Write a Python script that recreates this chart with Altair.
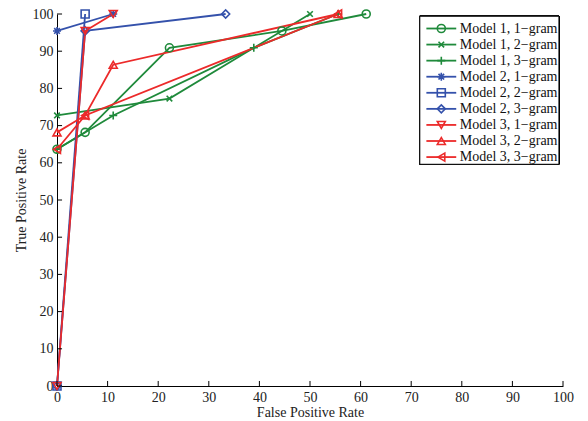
import altair as alt
import pandas as pd

# ---------------- data ----------------
series = [
    "Model 1, 1−gram", "Model 1, 2−gram", "Model 1, 3−gram",
    "Model 2, 1−gram", "Model 2, 2−gram", "Model 2, 3−gram",
    "Model 3, 1−gram", "Model 3, 2−gram", "Model 3, 3−gram",
]
fpr = [
    [0, 5.56, 22.22, 44.44, 61.11],
    [0, 22.22, 50.0],
    [0, 11.11, 38.89, 55.56],
    [0, 11.11],
    [0, 5.56],
    [0, 5.56, 33.33],
    [0, 5.56, 11.11],
    [0, 5.56, 11.11, 55.56],
    [0, 5.56, 55.56],
]
tpr = [
    [63.64, 68.18, 90.91, 95.45, 100],
    [72.73, 77.27, 100],
    [63.64, 72.73, 90.91, 100],
    [95.45, 100],
    [0, 100],
    [0, 95.45, 100],
    [0, 95.45, 100],
    [68.18, 72.73, 86.36, 100],
    [63.64, 72.73, 100],
]
colors = ["#1f8a3b", "#1f8a3b", "#1f8a3b",
          "#3451ab", "#3451ab", "#3451ab",
          "#ec2a2a", "#ec2a2a", "#ec2a2a"]
shapes = [
    "circle",
    "M-0.7,-0.7L0.7,0.7M-0.7,0.7L0.7,-0.7",
    "M-1,0L1,0M0,-1L0,1",
    "M-1,0L1,0M0,-1L0,1M-0.7,-0.7L0.7,0.7M-0.7,0.7L0.7,-0.7",
    "square",
    "diamond",
    "triangle-down",
    "triangle-up",
    "triangle-left",
]
ticks = [0, 10, 20, 30, 40, 50, 60, 70, 80, 90, 100]

rows = []
for i, s in enumerate(series):
    for j, (a, b) in enumerate(zip(fpr[i], tpr[i])):
        rows.append({"series": s, "sidx": i, "ord": j, "x": a, "y": b})
df = pd.DataFrame(rows)
leg = pd.DataFrame({"series": series, "idx": list(range(len(series)))})
tk = pd.DataFrame({"t": ticks})

FONT = "Liberation Serif"
FS = 14
xs = alt.Scale(domain=[0, 100], nice=False, zero=False)
ys = alt.Scale(domain=[0, 100], nice=False, zero=False)
col = alt.Color("series:N", scale=alt.Scale(domain=series, range=colors), legend=None)
shp = alt.Shape("series:N", scale=alt.Scale(domain=series, range=shapes), legend=None)

axis_common = dict(values=ticks, tickCount=11, ticks=False, grid=False,
                   domainColor="#000", labelFont=FONT, titleFont=FONT,
                   labelFontSize=FS, titleFontSize=FS, titleFontWeight="normal",
                   labelColor="#222", titleColor="#222", labelFlush=False,
                   labelOverlap=False)
xaxis = alt.Axis(labelPadding=4, titlePadding=1, **axis_common)
yaxis = alt.Axis(labelPadding=4, titlePadding=4, **axis_common)
XT = "False Positive Rate"
YT = "True Positive Rate"


def X(f):
    return alt.X(f, scale=xs, axis=xaxis, title=XT)


def Y(f):
    return alt.Y(f, scale=ys, axis=yaxis, title=YT)


base = alt.Chart(df)
lines = base.mark_line(strokeWidth=1.8, clip=False).encode(
    x=X("x:Q"), y=Y("y:Q"), color=col, detail="series:N", order="ord:Q",
)
points = base.mark_point(filled=False, strokeWidth=1.6, size=64, clip=False, opacity=1).encode(
    x=X("x:Q"), y=Y("y:Q"), color=col, shape=shp, order="sidx:Q"
)

xt = alt.Chart(tk).mark_rule(color="#000", strokeWidth=1).encode(
    x=X("t:Q"),
    y=alt.YDatum(0, scale=ys, axis=yaxis, title=YT), y2=alt.datum(1.35)
)
yt = alt.Chart(tk).mark_rule(color="#000", strokeWidth=1).encode(
    y=Y("t:Q"),
    x=alt.XDatum(0, scale=xs, axis=xaxis, title=XT), x2=alt.datum(1.0)
)

# legend (drawn inside the plot, positions derived from row index)
lb = alt.Chart(leg).transform_calculate(
    ly="96.1 - 4.32*datum.idx", lx1="73.0", lx2="78.9", lxm="75.95", ltx="79.6"
)
box = alt.Chart(leg).mark_rect(fill="white", stroke="#000", strokeWidth=1).encode(
    x=alt.XDatum(71.7, scale=xs, axis=xaxis, title=XT), x2=alt.datum(99.2),
    y=alt.YDatum(99.4, scale=ys, axis=yaxis, title=YT), y2=alt.datum(59.6)
)
lrule = lb.mark_rule(strokeWidth=1.8).encode(
    x=X("lx1:Q"), x2="lx2:Q", y=Y("ly:Q"), color=col
)
lpt = lb.mark_point(filled=False, strokeWidth=1.6, size=64, opacity=1).encode(
    x=X("lxm:Q"), y=Y("ly:Q"), color=col, shape=shp
)
ltxt = lb.mark_text(align="left", baseline="middle", font=FONT, fontSize=FS,
                    color="#111").encode(x=X("ltx:Q"), y=Y("ly:Q"), text="series:N")

chart = alt.layer(lines, points, xt, yt, box, lrule, lpt, ltxt).properties(
    width=506, height=372,
    autosize=alt.AutoSizeParams(type="none"),
    padding={"left": 49, "top": 6, "right": 17, "bottom": 35},
).configure_view(strokeWidth=0).configure_axis(labelOverlap=False)

chart.save("out.html", embed_options={"renderer": "svg", "actions": False})
